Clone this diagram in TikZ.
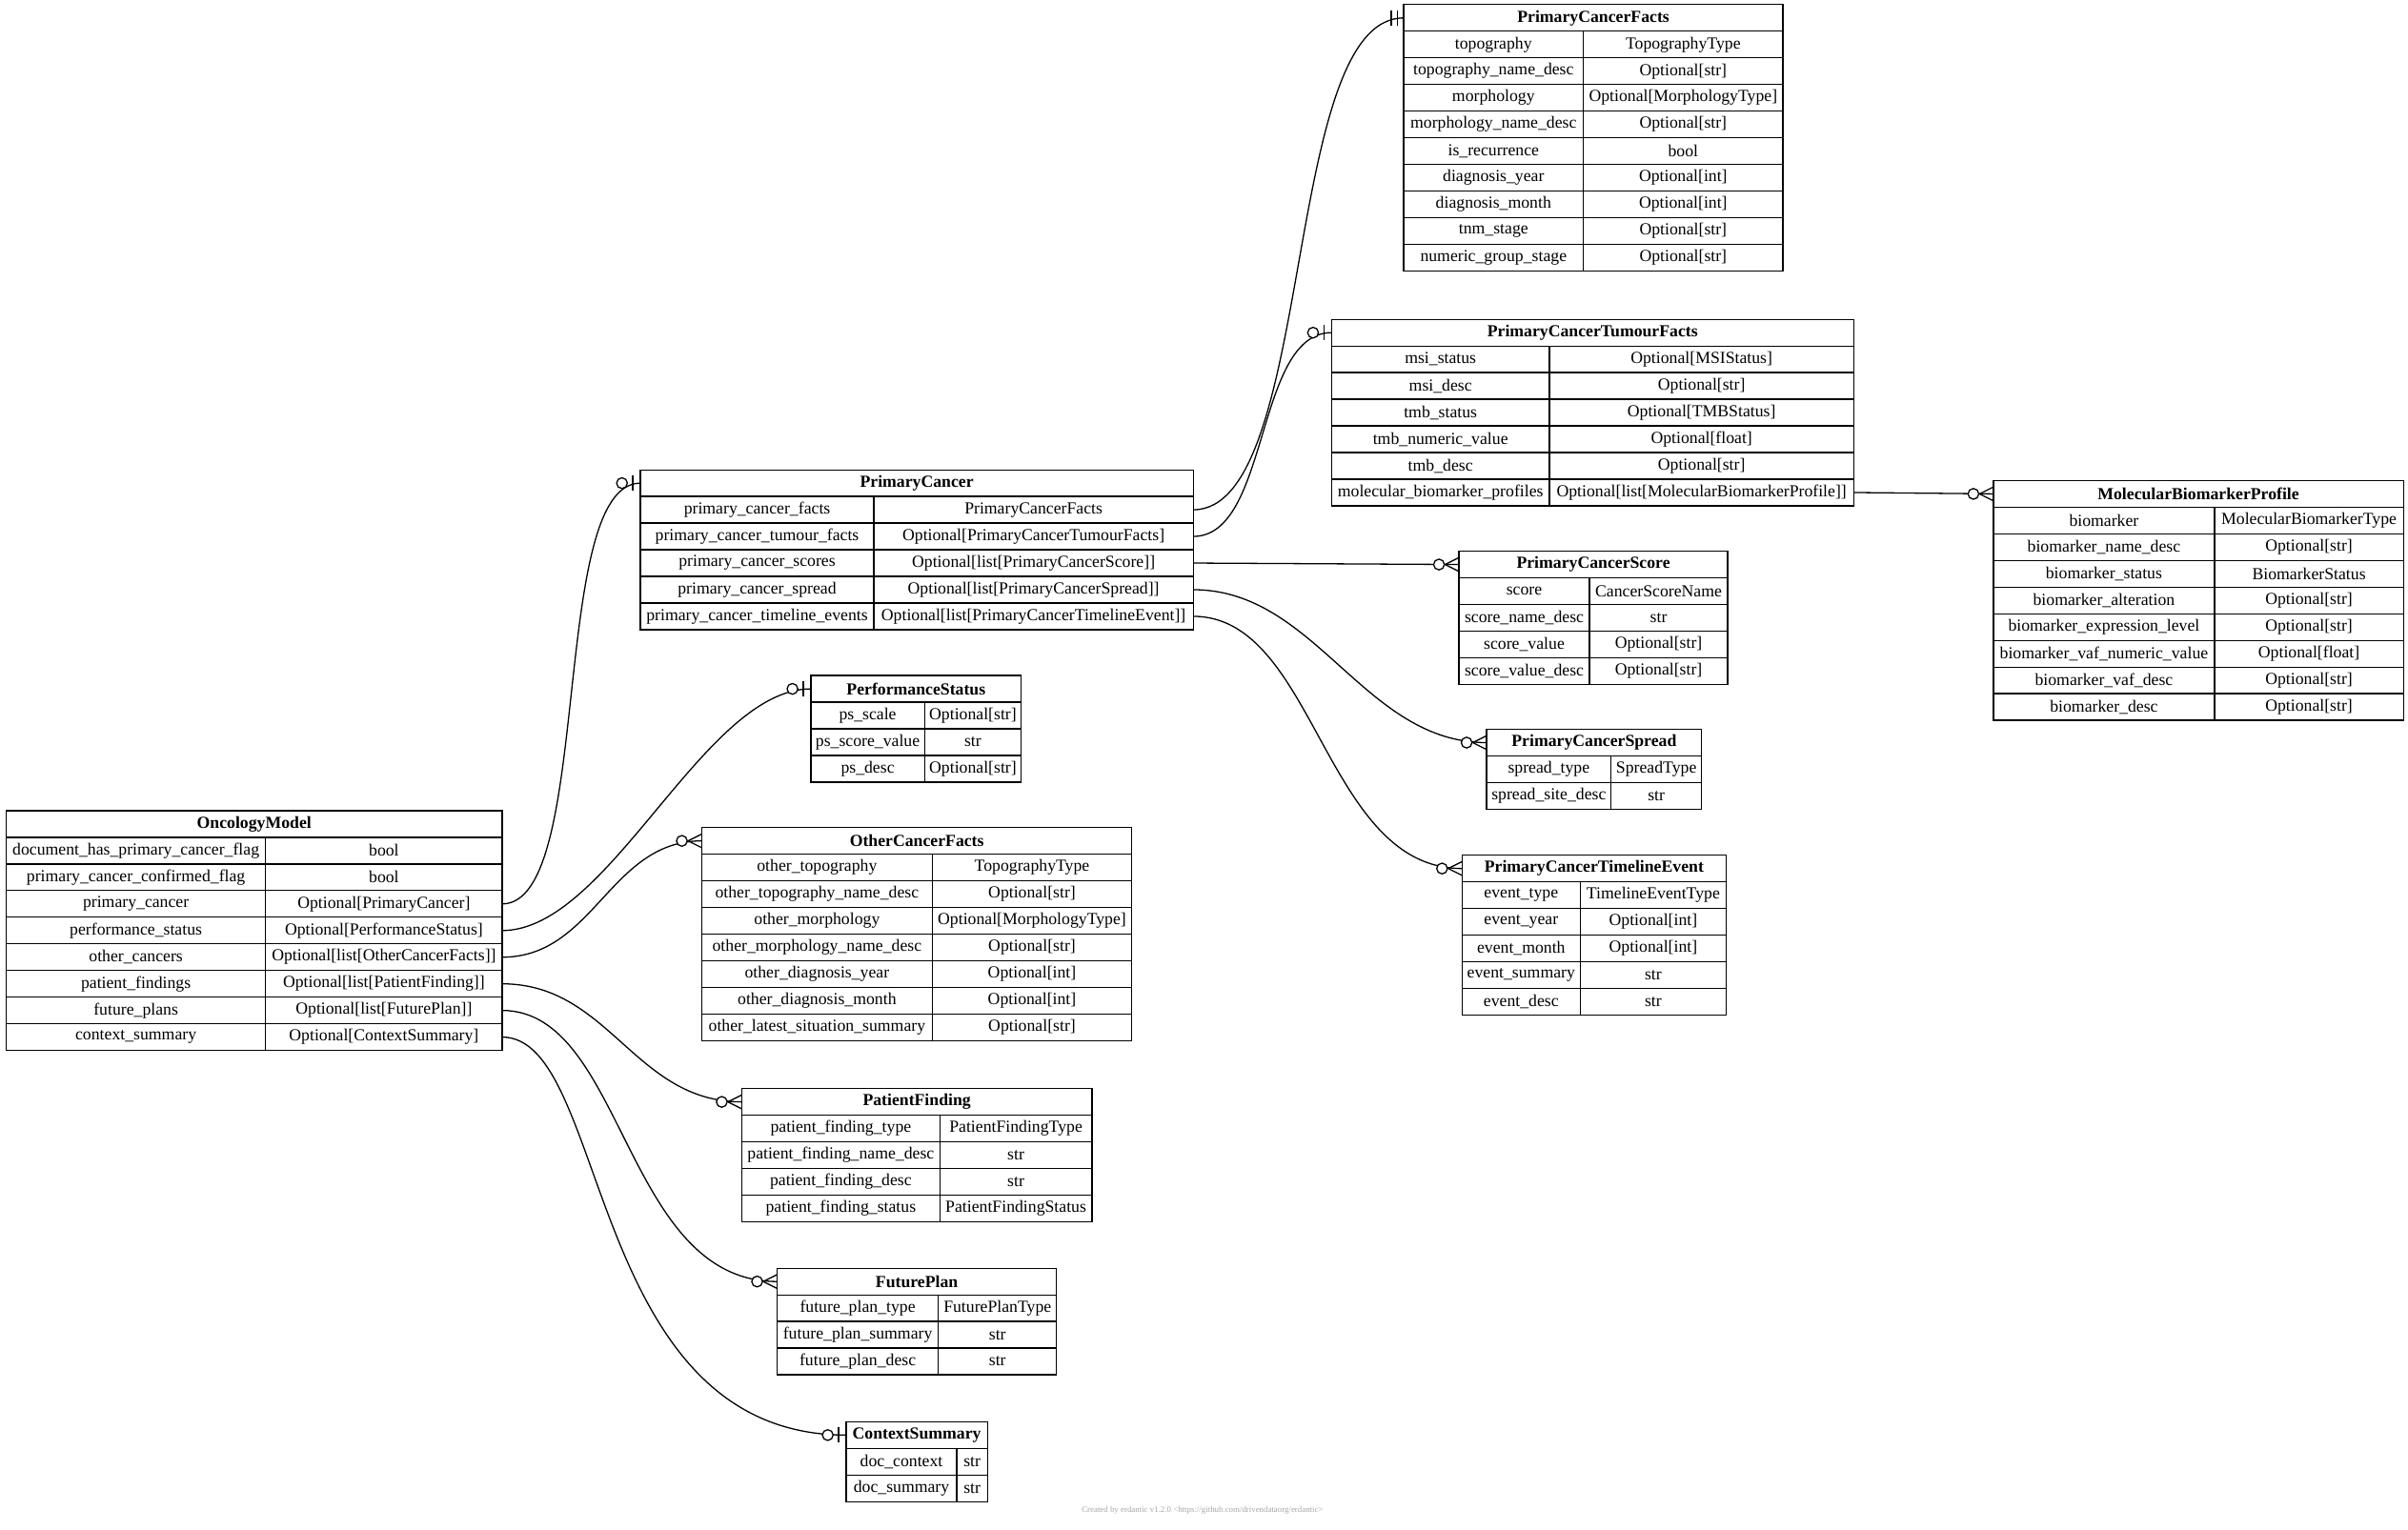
\documentclass[tikz,border=0pt]{standalone}
\usepackage{fontspec}
\setmainfont{Liberation Serif}
\tikzset{
  x=1pt,y=-1pt,
  hdr/.style={draw,line width=0.8pt,minimum height=17.35pt,inner sep=0pt,outer sep=0pt,font=\fontsize{11}{13}\selectfont\bfseries},
  cell/.style={draw,line width=0.8pt,minimum height=17.35pt,inner sep=0pt,outer sep=0pt,font=\fontsize{11}{13}\selectfont},
  conn/.style={line width=0.8pt},
}
\newcommand\ertab[7]{%
  \node[hdr,minimum width={#5-#2},anchor=north west] (#1) at (#2,#3) {#6};
  \foreach \k/\v [count=\i] in {#7} {
    \node[cell,minimum width={#4-#2},anchor=north west] (#1-\i-k) at (#2,{#3+\i*17.35}) {\k};
    \node[cell,minimum width={#5-#4},anchor=north west] (#1-\i-v) at (#4,{#3+\i*17.35}) {\v};
  }}
\newcommand\zmany[1]{\draw[conn] (#1) ++(-9,0) -- ++(9,-4.5) (#1) ++(-9,0) -- ++(9,4.5);
  \draw[conn,fill=white] (#1) ++(-13,0) circle (3.5);}
\newcommand\zone[1]{\draw[conn] (#1) ++(-5,-5) -- ++(0,10);
  \draw[conn,fill=white] (#1) ++(-12,0) circle (3.5);}
\newcommand\exone[1]{\draw[conn] (#1) ++(-4,-5) -- ++(0,10) (#1) ++(-8,-5) -- ++(0,10);}
\begin{document}
\begin{tikzpicture}
\useasboundingbox (0,0) rectangle (1568,996);
\ertab{PCF}{914}{3}{1031}{1161}{PrimaryCancerFacts}{topography/TopographyType,topography\_name\_desc/Optional[str],morphology/Optional[MorphologyType],morphology\_name\_desc/Optional[str],is\_recurrence/bool,diagnosis\_year/Optional[int],diagnosis\_month/Optional[int],tnm\_stage/Optional[str],numeric\_group\_stage/Optional[str]}
\ertab{PCTF}{867}{208}{1009}{1207}{PrimaryCancerTumourFacts}{msi\_status/Optional[MSIStatus],msi\_desc/Optional[str],tmb\_status/Optional[TMBStatus],tmb\_numeric\_value/Optional[float],tmb\_desc/Optional[str],molecular\_biomarker\_profiles/Optional[list[MolecularBiomarkerProfile]]}
\ertab{MBP}{1298}{313}{1442}{1565}{MolecularBiomarkerProfile}{biomarker/MolecularBiomarkerType,biomarker\_name\_desc/Optional[str],biomarker\_status/BiomarkerStatus,biomarker\_alteration/Optional[str],biomarker\_expression\_level/Optional[str],biomarker\_vaf\_numeric\_value/Optional[float],biomarker\_vaf\_desc/Optional[str],biomarker\_desc/Optional[str]}
\ertab{PC}{417}{306}{569}{777}{PrimaryCancer}{primary\_cancer\_facts/PrimaryCancerFacts,primary\_cancer\_tumour\_facts/Optional[PrimaryCancerTumourFacts],primary\_cancer\_scores/Optional[list[PrimaryCancerScore]],primary\_cancer\_spread/Optional[list[PrimaryCancerSpread]],primary\_cancer\_timeline\_events/Optional[list[PrimaryCancerTimelineEvent]]}
\ertab{PCS}{950}{359}{1035}{1125}{PrimaryCancerScore}{score/CancerScoreName,score\_name\_desc/str,score\_value/Optional[str],score\_value\_desc/Optional[str]}
\ertab{PCSp}{968}{475}{1049}{1108}{PrimaryCancerSpread}{spread\_type/SpreadType,spread\_site\_desc/str}
\ertab{PCTE}{952}{557}{1029}{1124}{PrimaryCancerTimelineEvent}{event\_type/TimelineEventType,event\_year/Optional[int],event\_month/Optional[int],event\_summary/str,event\_desc/str}
\ertab{PS}{528}{440}{602}{665}{PerformanceStatus}{ps\_scale/Optional[str],ps\_score\_value/str,ps\_desc/Optional[str]}
\ertab{OCF}{457}{539}{607}{737}{OtherCancerFacts}{other\_topography/TopographyType,other\_topography\_name\_desc/Optional[str],other\_morphology/Optional[MorphologyType],other\_morphology\_name\_desc/Optional[str],other\_diagnosis\_year/Optional[int],other\_diagnosis\_month/Optional[int],other\_latest\_situation\_summary/Optional[str]}
\ertab{OM}{4}{528}{173}{327}{OncologyModel}{document\_has\_primary\_cancer\_flag/bool,primary\_cancer\_confirmed\_flag/bool,primary\_cancer/Optional[PrimaryCancer],performance\_status/Optional[PerformanceStatus],other\_cancers/Optional[list[OtherCancerFacts]],patient\_findings/Optional[list[PatientFinding]],future\_plans/Optional[list[FuturePlan]],context\_summary/Optional[ContextSummary]}
\ertab{PF}{483}{709}{612}{711}{PatientFinding}{patient\_finding\_type/PatientFindingType,patient\_finding\_name\_desc/str,patient\_finding\_desc/str,patient\_finding\_status/PatientFindingStatus}
\ertab{FP}{506}{826}{611}{688}{FuturePlan}{future\_plan\_type/FuturePlanType,future\_plan\_summary/str,future\_plan\_desc/str}
\ertab{CS}{551}{926}{623}{643}{ContextSummary}{doc\_context/str,doc\_summary/str}
% connectors
\draw[conn] (OM-3-v.east) .. controls +(60,0) and +(-60,0) .. (PC.west); \zone{PC.west}
\draw[conn] (OM-4-v.east) .. controls +(70,0) and +(-70,0) .. (PS.west); \zone{PS.west}
\draw[conn] (OM-5-v.east) .. controls +(60,0) and +(-60,0) .. (OCF.west); \zmany{OCF.west}
\draw[conn] (OM-6-v.east) .. controls +(70,0) and +(-70,0) .. (PF.west); \zmany{PF.west}
\draw[conn] (OM-7-v.east) .. controls +(80,0) and +(-100,0) .. (FP.west); \zmany{FP.west}
\draw[conn] (OM-8-v.east) .. controls +(70,0) and +(-170,0) .. (CS.west); \zone{CS.west}
\draw[conn] (PC-1-v.east) .. controls +(80,0) and +(-80,0) .. (PCF.west); \exone{PCF.west}
\draw[conn] (PC-2-v.east) .. controls +(50,0) and +(-50,0) .. (PCTF.west); \zone{PCTF.west}
\draw[conn] (PC-3-v.east) -- (PCS.west); \zmany{PCS.west}
\draw[conn] (PC-4-v.east) .. controls +(80,0) and +(-80,0) .. (PCSp.west); \zmany{PCSp.west}
\draw[conn] (PC-5-v.east) .. controls +(80,0) and +(-90,0) .. (PCTE.west); \zmany{PCTE.west}
\draw[conn] (PCTF-6-v.east) -- (MBP.west); \zmany{MBP.west}
\node[font=\fontsize{5.5}{6}\selectfont,text=gray!70] (foot) at (783,984) {Created by erdantic v1.2.0 <https://github.com/drivendataorg/erdantic>};
\end{tikzpicture}
\end{document}
